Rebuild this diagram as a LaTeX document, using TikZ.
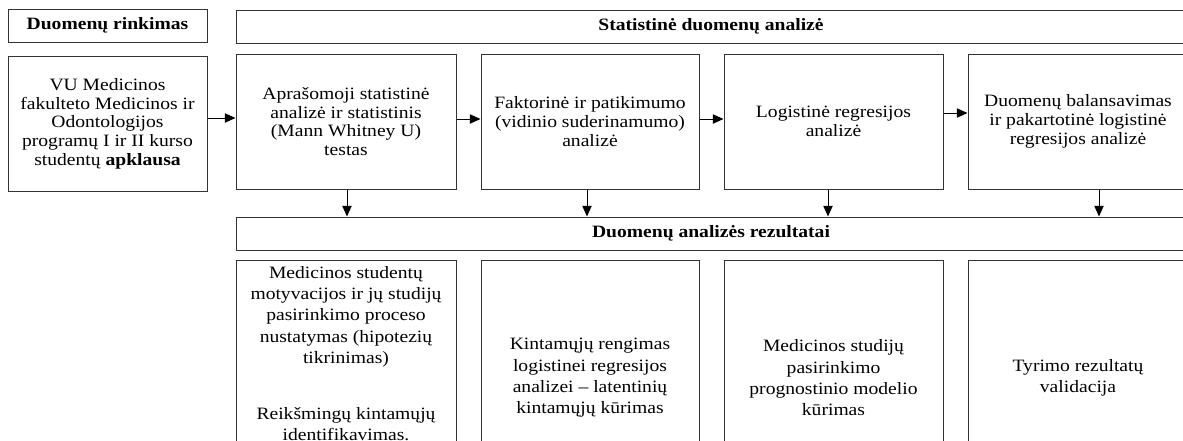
\documentclass[tikz,border=0pt]{standalone}
\usepackage{fontspec}
\setmainfont{Liberation Serif}[FakeStretch=1.13]
\usetikzlibrary{arrows.meta}
\begin{document}
\begin{tikzpicture}[x=0.75pt,y=-0.75pt,
  txt/.style={font=\fontsize{13pt}{14pt}\selectfont},
  loosetxt/.style={font=\fontsize{13pt}{16pt}\selectfont},
  frame/.style={draw=black!80, line width=0.75pt, inner sep=0pt, align=center, txt},
  headbox/.style={frame, font=\fontsize{13pt}{14pt}\selectfont\bfseries},
  sz/.style n args={2}{minimum width=#1*0.75pt, minimum height=#2*0.75pt},
  arr/.style={-{Triangle[length=8pt,width=7pt]}, line width=0.75pt, draw=black}]
\useasboundingbox (0,0) rectangle (1183,440);
\clip (0,0) rectangle (1183,440);

% data collection column
\node[headbox, sz={199}{33}] (hdcollect) at (107.5,25.5) {Duomenų rinkimas};
\node[frame, sz={199}{135}] (survey) at (107.5,123.5)
  {VU Medicinos\\fakulteto Medicinos ir\\Odontologijos\\programų I ir II kurso\\studentų \textbf{apklausa}};

% statistical analysis
\node[headbox, sz={950}{33}] (hdstat) at (711,26.5) {Statistinė duomenų analizė};
\node[frame, sz={220}{135}] (descr) at (346,121.5)
  {Aprašomoji statistinė\\analizė ir statistinis\\(Mann Whitney U)\\testas};
\node[frame, sz={218}{135}] (factor) at (590,121.5)
  {Faktorinė ir patikimumo\\(vidinio suderinamumo)\\analizė};
\node[frame, sz={219}{135}] (logit) at (833.5,121.5)
  {Logistinė regresijos\\analizė};
\node[frame, sz={220}{135}] (balance) at (1078,121.5)
  {Duomenų balansavimas\\ir pakartotinė logistinė\\regresijos analizė};

% results
\node[headbox, sz={950}{33}] (hdres) at (711,233.5) {Duomenų analizės rezultatai};
\node[frame, sz={220}{236}] (res1) at (346,378) {};
\node[loosetxt, align=center, inner sep=0pt, anchor=north] (res1txt) at (346,266)
  {Medicinos studentų\\motyvacijos ir jų studijų\\pasirinkimo proceso\\nustatymas (hipotezių\\tikrinimas)\\[26pt]Reikšmingų kintamųjų\\identifikavimas.};
\node[frame, loosetxt, sz={218}{236}] (res2) at (590,378)
  {Kintamųjų rengimas\\logistinei regresijos\\analizei -- latentinių\\kintamųjų kūrimas};
\node[frame, loosetxt, sz={219}{236}] (res3) at (833.5,378)
  {Medicinos studijų\\pasirinkimo\\prognostinio modelio\\kūrimas};
\node[frame, loosetxt, sz={220}{236}] (res4) at (1078,378)
  {Tyrimo rezultatų\\validacija};

% connector levels
\coordinate (ya) at (0,118);
\coordinate (yb) at (0,119);
\coordinate (yc) at (0,113);
\coordinate (xa) at (347,0);
\coordinate (xb) at (587,0);
\coordinate (xc) at (828,0);
\coordinate (xd) at (1099,0);

\draw[arr] (survey.east |- ya) -- (descr.west |- ya);
\draw[arr] (descr.east |- yb) -- (factor.west |- yb);
\draw[arr] (factor.east |- yb) -- (logit.west |- yb);
\draw[arr] (logit.east |- yc) -- (balance.west |- yc);

\draw[arr] (descr.south -| xa) -- (hdres.north -| xa);
\draw[arr] (factor.south -| xb) -- (hdres.north -| xb);
\draw[arr] (logit.south -| xc) -- (hdres.north -| xc);
\draw[arr] (balance.south -| xd) -- (hdres.north -| xd);
\end{tikzpicture}
\end{document}
